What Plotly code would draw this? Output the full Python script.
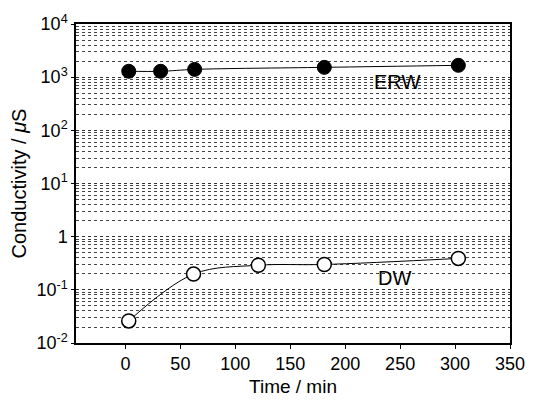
import plotly.graph_objects as go

time_erw = [3, 32, 63, 181, 303]
cond_erw = [1290, 1290, 1400, 1530, 1670]
time_dw = [3, 62, 121, 181, 303]
cond_dw = [0.026, 0.198, 0.29, 0.30, 0.39]

y_tickvals = [1e4, 1e3, 1e2, 1e1, 1, 1e-1, 1e-2]
y_ticktext = ["10<sup>4</sup>", "10<sup>3</sup>", "10<sup>2</sup>", "10<sup>1</sup>", "1",
              "10<sup>-1</sup>", "10<sup>-2</sup>"]
x_tickvals = [0, 50, 100, 150, 200, 250, 300, 350]

minor_vals = [m * 10 ** e for e in range(-2, 4) for m in range(2, 10)]

fig = go.Figure()
fig.add_trace(go.Scatter(
    x=time_erw, y=cond_erw, mode="lines+markers",
    line=dict(color="black", width=1, shape="spline"),
    marker=dict(symbol="circle", size=14, color="black", line=dict(color="black", width=1)),
    showlegend=False))
fig.add_trace(go.Scatter(
    x=time_dw, y=cond_dw, mode="lines+markers",
    line=dict(color="black", width=1, shape="spline"),
    marker=dict(symbol="circle", size=14, color="white", line=dict(color="black", width=1.5)),
    showlegend=False))

fig.add_annotation(x=247, y=2.9, xref="x", yref="y", text="ERW", showarrow=False,
                   font=dict(size=20, color="black", family="Liberation Sans, Arial"))
fig.add_annotation(x=245, y=-0.78, xref="x", yref="y", text="DW", showarrow=False,
                   font=dict(size=20, color="black", family="Liberation Sans, Arial"))

fig.update_layout(
    width=537, height=406,
    margin=dict(l=76, r=22, t=19, b=63),
    paper_bgcolor="white", plot_bgcolor="white",
    font=dict(family="Liberation Sans, Arial", color="black", size=18),
    xaxis=dict(
        range=[-45, 350], tickvals=x_tickvals, ticks="outside", ticklen=4,
        tickcolor="black", showline=True, linecolor="black", linewidth=1.5, mirror=True,
        showgrid=False, zeroline=False,
        title=dict(text="Time / min", font=dict(size=19), standoff=6),
        tickfont=dict(size=18),
    ),
    yaxis=dict(
        type="log", range=[-2, 4], tickvals=y_tickvals, ticktext=y_ticktext,
        ticks="outside", ticklen=3, tickcolor="black",
        showline=True, linecolor="black", linewidth=1.5, mirror=True,
        showgrid=True, gridcolor="#333333", griddash="dot", gridwidth=1,
        zeroline=False,
        minor=dict(tickvals=minor_vals, showgrid=True, gridcolor="#444444",
                   griddash="dot", gridwidth=1, ticks=""),
        title=dict(text="Conductivity / <i>μ</i>S", font=dict(size=20), standoff=4),
        tickfont=dict(size=18),
    ),
)

fig.write_html("out.html")
